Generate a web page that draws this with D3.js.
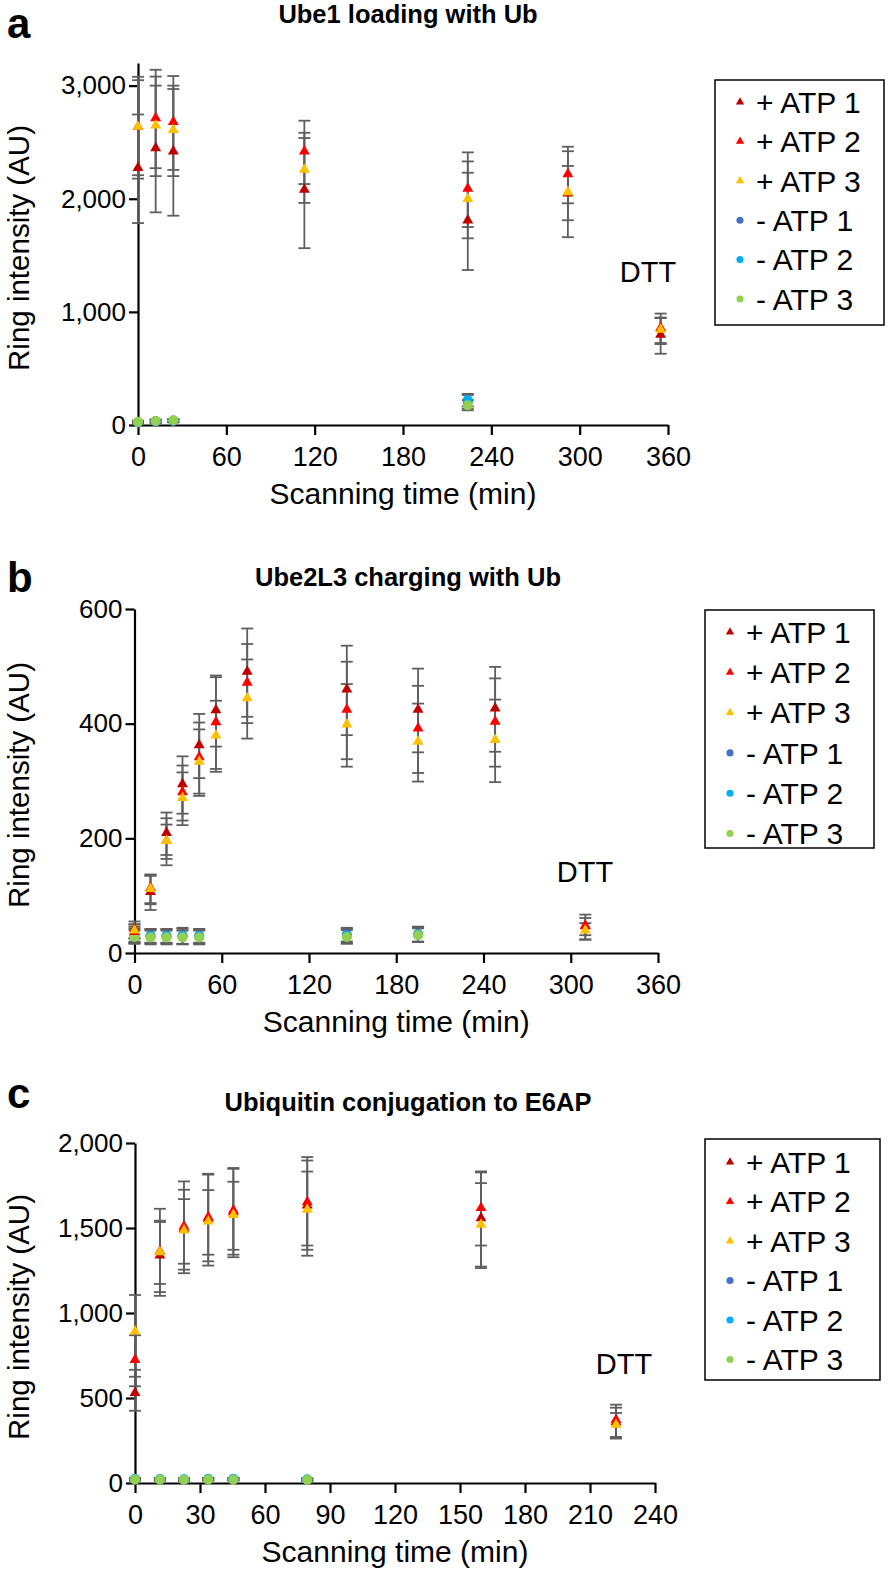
<!DOCTYPE html>
<html>
<head>
<meta charset="utf-8">
<script src="https://cdn.jsdelivr.net/npm/d3@7"></script>
<style>
  html, body { margin: 0; padding: 0; background: #fff; }
  svg { display: block; font-family: "Liberation Sans", Arial, Helvetica, sans-serif; }
</style>
</head>
<body>
<svg id="chart" width="891" height="1578"></svg>
<script>
// ---------------- DATA ----------------
const seriesNames = ["+ ATP 1", "+ ATP 2", "+ ATP 3", "- ATP 1", "- ATP 2", "- ATP 3"];
const seriesColors = ["#C00000", "#FF0000", "#FFC000", "#4472C4", "#00B0F0", "#92D050"];

// Panel a: Ube1 loading with Ub
const aTimes = [0, 12, 24, 113, 224, 292, 355];
const aPlus1 = [2265, 2440, 2410, 2073, 1800, 2040, 790];
const aPlus1Err = [480, 560, 560, 510, 430, 380, 160];
const aPlus2 = [2628, 2705, 2670, 2410, 2080, 2210, 850];
const aPlus2Err = [450, 435, 415, 280, 330, 250, 135];
const aPlus3 = [2628, 2640, 2600, 2250, 1990, 2050, 835];
const aPlus3Err = [420, 440, 400, 287, 340, 240, 110];
const aMinusTimes = [0, 12, 24, 224];
const aMinus1 = [22, 30, 35, 205];
const aMinus1Err = [10, 12, 12, 60];
const aMinus2 = [25, 35, 40, 220];
const aMinus2Err = [10, 12, 12, 55];
const aMinus3 = [28, 36, 42, 175];
const aMinus3Err = [10, 12, 12, 45];
const aXTicks = [0, 60, 120, 180, 240, 300, 360];
const aYTicks = [0, 1000, 2000, 3000];

// Panel b: Ube2L3 charging with Ub
const bTimes = [0, 11, 22, 33, 44.5, 56, 77.5, 146, 195, 248, 310];
const bPlus1 = [40, 105, 208, 293, 361, 422, 489, 458, 423, 425, 45];
const bPlus1Err = [15, 30, 37, 50, 56, 62, 77, 78, 73, 74, 22];
const bPlus2 = [35, 112, 194, 279, 340, 401, 470, 423, 390, 402, 46];
const bPlus2Err = [15, 25, 41, 48, 62, 80, 69, 85, 76, 77, 15];
const bPlus3 = [38, 110, 194, 269, 332, 378, 443, 397, 367, 370, 38];
const bPlus3Err = [12, 25, 30, 46, 58, 62, 69, 72, 68, 72, 14];
const bMinusTimes = [0, 11, 22, 33, 44.5, 146, 195];
const bMinus1 = [32, 30, 30, 30, 30, 32, 33];
const bMinus1Err = [14, 12, 12, 14, 12, 12, 13];
const bMinus2 = [30, 29, 29, 29, 29, 30, 32];
const bMinus2Err = [13, 12, 12, 13, 12, 12, 13];
const bMinus3 = [28, 27, 27, 27, 27, 28, 31];
const bMinus3Err = [12, 12, 12, 12, 12, 12, 12];
const bXTicks = [0, 60, 120, 180, 240, 300, 360];
const bYTicks = [0, 200, 400, 600];

// Panel c: Ubiquitin conjugation to E6AP
const cTimes = [0, 11.5, 22.6, 33.8, 45.4, 79.5, 159.7, 222];
const cPlus1 = [525, 1333, 1490, 1549, 1588, 1627, 1553, 353];
const cPlus1Err = [100, 210, 235, 270, 260, 290, 280, 90];
const cPlus2 = [719, 1357, 1504, 1559, 1598, 1647, 1612, 366];
const cPlus2Err = [150, 256, 270, 255, 255, 250, 215, 95];
const cPlus3 = [886, 1353, 1480, 1533, 1572, 1602, 1514, 337];
const cPlus3Err = [220, 182, 190, 190, 200, 230, 250, 75];
const cMinusTimes = [0, 11.5, 22.6, 33.8, 45.4, 79.5];
const cMinus1 = [22, 22, 20, 22, 22, 20];
const cMinus1Err = [6, 6, 6, 6, 6, 6];
const cMinus2 = [24, 23, 22, 24, 24, 21];
const cMinus2Err = [6, 6, 6, 6, 6, 6];
const cMinus3 = [20, 20, 19, 20, 20, 19];
const cMinus3Err = [6, 6, 6, 6, 6, 6];
const cXTicks = [0, 30, 60, 90, 120, 150, 180, 210, 240];
const cYTicks = [0, 500, 1000, 1500, 2000];

// ---------------- LAYOUT ----------------
const panels = [
  {
    letter: "a", title: "Ube1 loading with Ub",
    plus: [[aTimes, aPlus1, aPlus1Err], [aTimes, aPlus2, aPlus2Err], [aTimes, aPlus3, aPlus3Err]],
    minus: [[aMinusTimes, aMinus1, aMinus1Err], [aMinusTimes, aMinus2, aMinus2Err], [aMinusTimes, aMinus3, aMinus3Err]],
    xTicks: aXTicks, yTicks: aYTicks, xMax: 360, yMax: 3200,
    left: 138, right: 668, bottom: 425, top: 63,
    letterY: 38, titleY: 23, titleX: 408,
    dtt: [648, 282],
    legend: { x: 715, y: 80, w: 169, h: 245, row0: 102, step: 39.4 }
  },
  {
    letter: "b", title: "Ube2L3 charging with Ub",
    plus: [[bTimes, bPlus1, bPlus1Err], [bTimes, bPlus2, bPlus2Err], [bTimes, bPlus3, bPlus3Err]],
    minus: [[bMinusTimes, bMinus1, bMinus1Err], [bMinusTimes, bMinus2, bMinus2Err], [bMinusTimes, bMinus3, bMinus3Err]],
    xTicks: bXTicks, yTicks: bYTicks, xMax: 360, yMax: 600,
    left: 134.5, right: 658, bottom: 953, top: 609,
    letterY: 592, titleY: 586, titleX: 408,
    dtt: [585, 882],
    legend: { x: 705, y: 610, w: 169, h: 238, row0: 632, step: 40.3 }
  },
  {
    letter: "c", title: "Ubiquitin conjugation to E6AP",
    plus: [[cTimes, cPlus1, cPlus1Err], [cTimes, cPlus2, cPlus2Err], [cTimes, cPlus3, cPlus3Err]],
    minus: [[cMinusTimes, cMinus1, cMinus1Err], [cMinusTimes, cMinus2, cMinus2Err], [cMinusTimes, cMinus3, cMinus3Err]],
    xTicks: cXTicks, yTicks: cYTicks, xMax: 240, yMax: 2000,
    left: 135, right: 655, bottom: 1483, top: 1143,
    letterY: 1108, titleY: 1111, titleX: 408,
    dtt: [624, 1374],
    legend: { x: 705, y: 1139, w: 175, h: 241, row0: 1162, step: 39.5 }
  }
];

const svg = d3.select("#chart");
const errColor = "#5f5f5f";
const triSym = d3.symbol().type(d3.symbolTriangle).size(52);
const cirSym = d3.symbol().type(d3.symbolCircle).size(80);
const legTri = d3.symbol().type(d3.symbolTriangle).size(30);
const legCir = d3.symbol().type(d3.symbolCircle).size(40);

panels.forEach(p => {
  const g = svg.append("g");
  const x = d3.scaleLinear().domain([0, p.xMax]).range([p.left, p.right]);
  const y = d3.scaleLinear().domain([0, p.yMax]).range([p.bottom, p.top]);

  // panel letter & title
  g.append("text").attr("x", 7).attr("y", p.letterY)
    .style("font-size", "42px").style("font-weight", "bold").text(p.letter);
  g.append("text").attr("x", p.titleX).attr("y", p.titleY).attr("text-anchor", "middle")
    .style("font-size", "25.5px").style("font-weight", "bold").text(p.title);

  // axes
  const yAxis = d3.axisLeft(y).tickValues(p.yTicks).tickSize(9).tickSizeOuter(0).tickPadding(3)
    .tickFormat(d3.format(","));
  const xAxis = d3.axisBottom(x).tickValues(p.xTicks).tickSize(10).tickSizeOuter(0).tickPadding(12);
  const ya = g.append("g").attr("transform", `translate(${p.left},0)`).call(yAxis);
  const xa = g.append("g").attr("transform", `translate(0,${p.bottom})`).call(xAxis);
  [ya, xa].forEach(a => {
    a.select(".domain").attr("stroke", "#000").attr("stroke-width", 2.2);
    a.selectAll(".tick line").attr("stroke", "#000").attr("stroke-width", 2.2);
    a.selectAll(".tick text").attr("fill", "#000")
      .style("font-family", "'Liberation Sans', Arial, sans-serif");
  });
  ya.selectAll(".tick text").style("font-size", "26px");
  xa.selectAll(".tick text").style("font-size", "27px");

  // axis titles
  g.append("text").attr("transform", `translate(29,${(p.top + p.bottom) / 2 + 4}) rotate(-90)`)
    .attr("text-anchor", "middle").style("font-size", "29.5px").text("Ring intensity (AU)");
  g.append("text").attr("x", (p.left + p.right) / 2).attr("y", p.bottom + 79)
    .attr("text-anchor", "middle").style("font-size", "30px").text("Scanning time (min)");

  // DTT label
  g.append("text").attr("x", p.dtt[0]).attr("y", p.dtt[1]).attr("text-anchor", "middle")
    .style("font-size", "29px").text("DTT");

  // series list: minus first, then plus
  const all = [];
  p.minus.forEach((s, i) => all.push({ t: s[0], v: s[1], e: s[2], color: seriesColors[3 + i], tri: false }));
  p.plus.forEach((s, i) => all.push({ t: s[0], v: s[1], e: s[2], color: seriesColors[i], tri: true }));

  // error bars
  const eg = g.append("g").attr("stroke", errColor).attr("stroke-width", 1.8);
  all.forEach(s => {
    const pts = s.t.map((t, i) => ({ t, v: s.v[i], e: s.e[i] }));
    const bars = eg.append("g").selectAll("g").data(pts).join("g");
    bars.append("line").attr("x1", d => x(d.t)).attr("x2", d => x(d.t))
      .attr("y1", d => y(d.v + d.e)).attr("y2", d => y(Math.max(0, d.v - d.e)));
    bars.append("line").attr("x1", d => x(d.t) - 6).attr("x2", d => x(d.t) + 6)
      .attr("y1", d => y(d.v + d.e)).attr("y2", d => y(d.v + d.e));
    bars.append("line").attr("x1", d => x(d.t) - 6).attr("x2", d => x(d.t) + 6)
      .attr("y1", d => y(Math.max(0, d.v - d.e))).attr("y2", d => y(Math.max(0, d.v - d.e)));
  });

  // markers
  all.forEach(s => {
    const pts = s.t.map((t, i) => ({ t, v: s.v[i] }));
    g.append("g").selectAll("path").data(pts).join("path")
      .attr("d", s.tri ? triSym : cirSym)
      .attr("transform", d => `translate(${x(d.t)},${y(d.v) + (s.tri ? -1 : 0)})`)
      .attr("fill", s.color);
  });

  // legend
  const L = p.legend;
  const lg = g.append("g");
  lg.append("rect").attr("x", L.x).attr("y", L.y).attr("width", L.w).attr("height", L.h)
    .attr("fill", "#fff").attr("stroke", "#000").attr("stroke-width", 1.5);
  const rows = lg.selectAll("g.row").data(seriesNames).join("g")
    .attr("transform", (d, i) => `translate(${L.x},${L.row0 + i * L.step})`);
  rows.append("path").attr("d", (d, i) => (i < 3 ? legTri : legCir)())
    .attr("transform", "translate(25,0)").attr("fill", (d, i) => seriesColors[i]);
  rows.append("text").attr("x", 41).attr("y", 0).attr("dy", "0.36em")
    .style("font-size", "30px").text(d => d);
});
</script>
</body>
</html>
